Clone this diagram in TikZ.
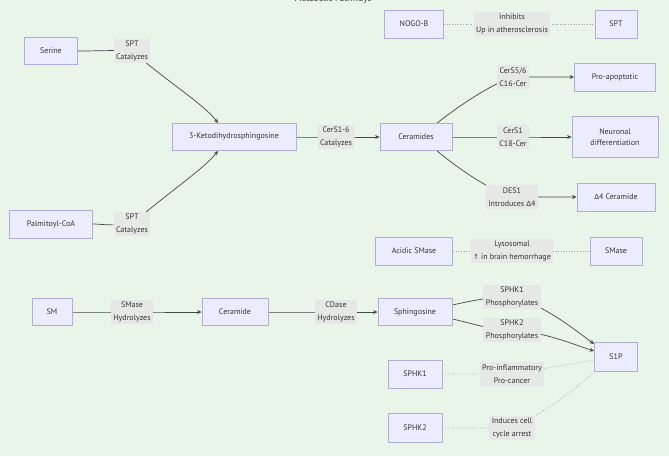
\documentclass[tikz,border=0pt]{standalone}
\usepackage{fontspec}
\setmainfont{PT Sans}
\newfontfamily\symf{DejaVu Sans}
\usetikzlibrary{arrows.meta}
\definecolor{bgc}{RGB}{232,245,232}
\definecolor{nfill}{RGB}{236,236,255}
\definecolor{nstroke}{RGB}{178,172,218}
\definecolor{txt}{RGB}{51,51,51}
\definecolor{lfill}{RGB}{230,232,230}
\pgfdeclarelayer{bgl}
\pgfdeclarelayer{edges}
\pgfsetlayers{bgl,edges,main}
\tikzset{
  box/.style={draw=nstroke, fill=nfill, line width=0.8pt, text=txt, font=\fontsize{8}{11}\selectfont, align=center, inner sep=0pt},
  lbl/.style={fill=lfill, text=txt, font=\fontsize{8}{12.5}\selectfont, align=center, inner sep=2.5pt},
  edge/.style={draw=txt!90, line width=0.7pt, -{Stealth[length=4.5pt,width=4pt]}},
  dline/.style={draw=gray!80, line width=0.7pt, dotted},
}
\begin{document}
\begin{tikzpicture}[x=1pt,y=-1pt]
\begin{pgfonlayer}{bgl}
\fill[bgc] (0,0) rectangle (669,456);
\end{pgfonlayer}
\useasboundingbox (0,0) rectangle (669,456);
\node[text=txt, font=\fontsize{9}{11}\selectfont] (title) at (333,-1) {Metabolic Pathways};

\node[box, minimum width=59pt, minimum height=28pt] (nogo) at (414,24) {NOGO-B};
\node[box, minimum width=42pt, minimum height=28pt] (sptr) at (616,24) {SPT};
\node[lbl] (linh) at (512,24) {Inhibits\\Up in atherosclerosis};

\node[box, minimum width=53pt, minimum height=27pt] (serine) at (51,51) {Serine};
\node[lbl] (ls1) at (132,51) {SPT\\Catalyzes};
\node[box, minimum width=124pt, minimum height=27pt] (keto) at (234,137) {3-Ketodihydrosphingosine};
\node[lbl] (lcs) at (336,137) {CerS1-6\\Catalyzes};
\node[box, minimum width=72pt, minimum height=27pt] (cer) at (416,137) {Ceramides};
\node[box, minimum width=81pt, minimum height=28pt] (proap) at (615,77) {Pro-apoptotic};
\node[lbl] (lc16) at (513,77) {CerS5/6\\C16-Cer};
\node[box, minimum width=86pt, minimum height=41pt] (neur) at (615,137) {Neuronal\\differentiation};
\node[lbl] (lc18) at (513,137) {CerS1\\C18-Cer};
\node[box, minimum width=78pt, minimum height=28pt] (d4) at (616,197) {{\symf\fontsize{7}{11}\selectfont Δ}4 Ceramide};
\node[lbl] (ldes) at (512,197) {DES1\\Introduces {\symf\fontsize{7}{11}\selectfont Δ}4};
\node[box, minimum width=83pt, minimum height=28pt] (palm) at (51,224) {Palmitoyl-CoA};
\node[lbl] (ls2) at (132,224) {SPT\\Catalyzes};

\node[box, minimum width=77pt, minimum height=28pt] (acid) at (414,251) {Acidic SMase};
\node[lbl] (llys) at (512,251) {Lysosomal\\{\symf\fontsize{7}{11}\selectfont ↑} in brain hemorrhage};
\node[box, minimum width=52pt, minimum height=28pt] (smase) at (616,251) {SMase};

\node[box, minimum width=40pt, minimum height=27pt] (sm) at (52,312) {SM};
\node[lbl] (lsm) at (132,312) {SMase\\Hydrolyzes};
\node[box, minimum width=66pt, minimum height=27pt] (ceramide) at (235,312) {Ceramide};
\node[lbl] (lcd) at (336,312) {CDase\\Hydrolyzes};
\node[box, minimum width=74pt, minimum height=27pt] (sph) at (415,312) {Sphingosine};
\node[lbl] (lk1) at (512,297) {SPHK1\\Phosphorylates};
\node[lbl] (lk2) at (512,330) {SPHK2\\Phosphorylates};
\node[box, minimum width=43pt, minimum height=29pt] (s1p) at (616,357) {S1P};
\node[box, minimum width=54pt, minimum height=28pt] (sphk1) at (415,374) {SPHK1};
\node[lbl] (lpi) at (512,374) {Pro-inflammatory\\Pro-cancer};
\node[box, minimum width=54pt, minimum height=29pt] (sphk2) at (415,428) {SPHK2};
\node[lbl] (lic) at (512,428) {Induces cell\\cycle arrest};

\begin{pgfonlayer}{edges}
\draw[dline] (nogo.east) -- (linh.center) -- (sptr.west);
\draw[edge] (serine.east) .. controls (100,51) and (112,50) .. (ls1.center) .. controls (165,80) and (205,105) .. ([xshift=-16pt]keto.north);
\draw[edge] (palm.east) .. controls (100,224) and (112,226) .. (ls2.center) .. controls (165,195) and (205,168) .. ([xshift=-16pt]keto.south);
\draw[edge] (keto.east) -- (lcs.center) -- (cer.west);
\draw[edge] ([xshift=21pt]cer.north) .. controls (460,105) and (490,85) .. (lc16.center) .. controls (535,77) and (555,77) .. (proap.west);
\draw[edge] (cer.east) -- (lc18.center) -- (neur.west);
\draw[edge] ([xshift=21pt]cer.south) .. controls (460,170) and (490,190) .. (ldes.center) .. controls (535,197) and (555,197) .. (d4.west);
\draw[dline] (acid.east) -- (llys.center) -- (smase.west);
\draw[edge] (sm.east) -- (lsm.center) -- (ceramide.west);
\draw[edge] (ceramide.east) -- (lcd.center) -- (sph.west);
\draw[edge] ([yshift=7pt]sph.east) .. controls (475,300) and (490,297) .. (lk1.center) .. controls (545,305) and (575,330) .. ([yshift=13pt]s1p.west);
\draw[edge] ([yshift=-7pt]sph.east) .. controls (475,324) and (490,330) .. (lk2.center) .. controls (545,332) and (575,345) .. ([yshift=6pt]s1p.west);
\draw[dline] (sphk1.east) -- (lpi.center) -- ([yshift=-3pt]s1p.west);
\draw[dline] (sphk2.east) .. controls (470,428) and (490,428) .. (lic.center) .. controls (545,412) and (575,390) .. (s1p.south west);
\end{pgfonlayer}
\end{tikzpicture}
\end{document}
